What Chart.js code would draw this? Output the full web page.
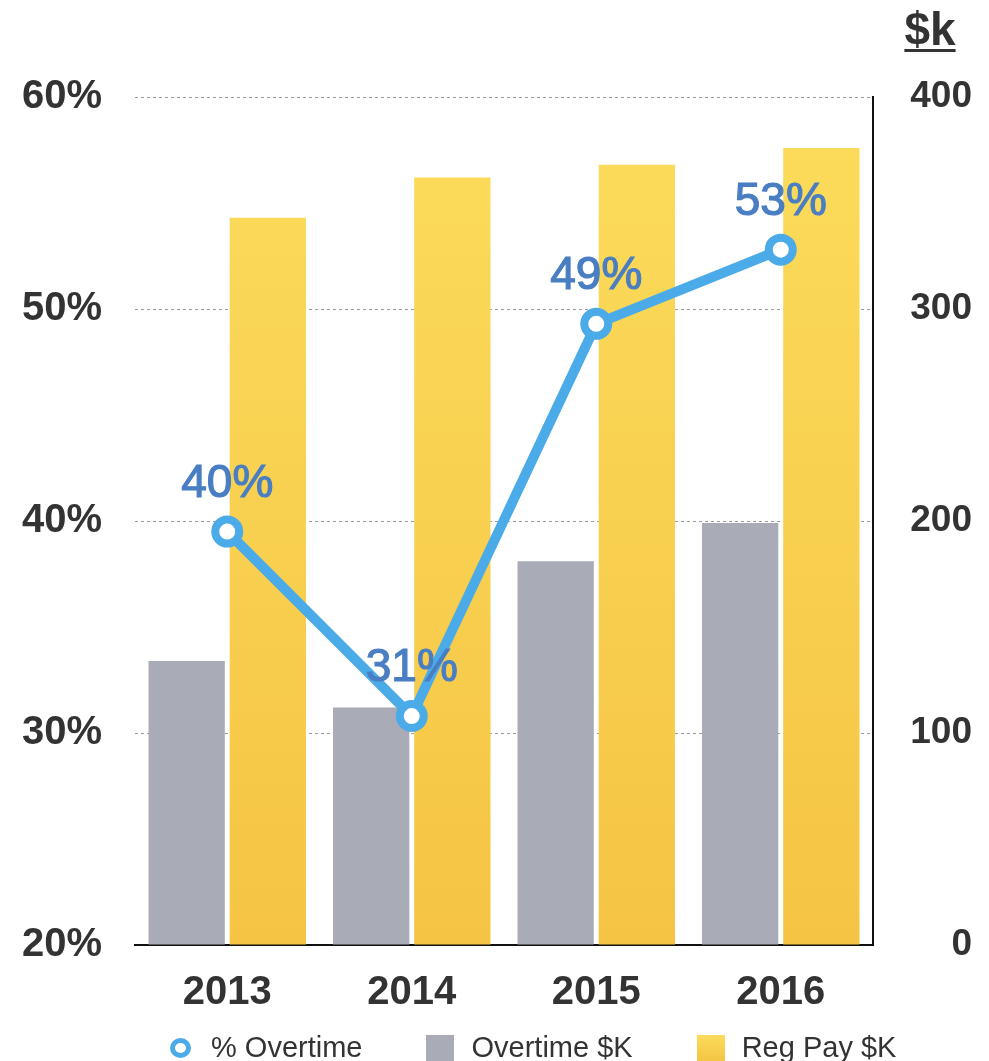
<!DOCTYPE html>
<html>
<head>
<meta charset="utf-8">
<script src="https://cdn.jsdelivr.net/npm/chart.js@4.4.1/dist/chart.umd.min.js"></script>
<style>
    body { margin: 0; background: #fff; }
    #wrap { position: relative; width: 989px; height: 1061px; }
    .legend {
        position: absolute; left: 170px; top: 1031px;
        display: flex; align-items: center;
        font: 29px "Liberation Sans", Arial, sans-serif; color: #333;
    }
    .legend .item { display: flex; align-items: center; margin-right: 64px; }
    .legend .mark { width: 28px; height: 26px; margin-right: 17px; }
    .legend .ring {
        width: 11px; height: 10px; margin-right: 20px; border-radius: 50%;
        border: 5px solid #4aabe8; background: #fff;
    }
</style>
</head>
<body>
<div id="wrap">
    <canvas id="chart" width="989" height="1061"></canvas>
    <div class="legend" id="legend"></div>
</div>
<script>
const years = ['2013', '2014', '2015', '2016']
const overtimePct = [39.5, 30.8, 49.3, 52.8]
const overtimeK = [134, 112, 181, 199]
const regPayK = [343, 362, 368, 376]
const pctTicks = [20, 30, 40, 50, 60]
const kTicks = [0, 100, 200, 300, 400]

const BLUE = '#4aabe8'
const GRAY = '#a9acb7'
const TEXT = '#333333'
const FONT = '"Liberation Sans", Arial, sans-serif'

function yellowFill(c) {
    const area = c.chart.chartArea
    if (!area) return '#f9d24e'
    const g = c.chart.ctx.createLinearGradient(0, area.top, 0, area.bottom)
    g.addColorStop(0, '#fcdc5c')
    g.addColorStop(1, '#f5c444')
    return g
}

// percentage labels above each point of the line
const pointLabels = {
    id: 'pointLabels',
    afterDatasetsDraw(chart) {
        const ctx = chart.ctx
        const meta = chart.getDatasetMeta(0)
        ctx.save()
        ctx.font = '46px ' + FONT
        ctx.fillStyle = '#4a7ec3'
        ctx.strokeStyle = '#4a7ec3'
        ctx.lineWidth = 1.2
        ctx.textAlign = 'center'
        ctx.textBaseline = 'alphabetic'
        meta.data.forEach((pt, i) => {
            const txt = Math.round(overtimePct[i]) + '%'
            ctx.fillText(txt, pt.x, pt.y - 35)
            ctx.strokeText(txt, pt.x, pt.y - 35)
        })
        ctx.restore()
    }
}

// "$k" unit caption over the right axis
const unitCaption = {
    id: 'unitCaption',
    afterDraw(chart) {
        const ctx = chart.ctx
        const x = chart.scales.y1.left + 57
        const y = chart.chartArea.top - 52
        ctx.save()
        ctx.font = 'bold 46px ' + FONT
        ctx.fillStyle = TEXT
        ctx.textAlign = 'center'
        ctx.textBaseline = 'alphabetic'
        ctx.fillText('$k', x, y)
        const w = ctx.measureText('$k').width
        ctx.fillRect(x - w / 2, y + 4, w, 3)
        ctx.restore()
    }
}

const chart = new Chart(document.getElementById('chart'), {
    data: {
        labels: years,
        datasets: [
            {
                type: 'line',
                label: '% Overtime',
                data: overtimePct,
                yAxisID: 'y',
                order: 0,
                borderColor: BLUE,
                borderWidth: 10,
                pointRadius: 12,
                pointHoverRadius: 12,
                pointBorderWidth: 8,
                pointBackgroundColor: '#fff',
                pointBorderColor: BLUE,
                tension: 0
            },
            {
                type: 'bar',
                label: 'Overtime $K',
                data: overtimeK,
                yAxisID: 'y1',
                order: 1,
                backgroundColor: GRAY
            },
            {
                type: 'bar',
                label: 'Reg Pay $K',
                data: regPayK,
                yAxisID: 'y1',
                order: 1,
                backgroundColor: yellowFill
            }
        ]
    },
    options: {
        responsive: false,
        animation: false,
        events: [],
        categoryPercentage: 0.88,
        barPercentage: 0.94,
        layout: { padding: { left: 0, right: 17, top: 97, bottom: 46 } },
        plugins: {
            legend: { display: false },
            tooltip: { enabled: false }
        },
        scales: {
            x: {
                grid: { display: true, drawOnChartArea: false, drawTicks: false },
                border: { color: '#111', width: 2 },
                ticks: { color: TEXT, font: { family: FONT, size: 40, weight: 'bold' }, padding: 24 },
                afterFit(s) { s.height = 70 }
            },
            y: {
                position: 'left',
                min: pctTicks[0],
                max: pctTicks[pctTicks.length - 1],
                ticks: {
                    stepSize: pctTicks[1] - pctTicks[0],
                    padding: 33,
                    color: TEXT,
                    font: { family: FONT, size: 40, weight: 'bold' },
                    callback: v => v + '%'
                },
                grid: { color: '#9a9a9a', lineWidth: 1, drawTicks: false },
                border: { display: false, dash: [3, 3] },
                afterFit(s) { s.width = 135 }
            },
            y1: {
                position: 'right',
                min: kTicks[0],
                max: kTicks[kTicks.length - 1],
                ticks: {
                    stepSize: kTicks[1] - kTicks[0],
                    padding: 39,
                    crossAlign: 'far',
                    color: TEXT,
                    font: { family: FONT, size: 37, weight: 'bold' }
                },
                grid: { drawOnChartArea: false, drawTicks: false },
                border: { color: '#111', width: 2 },
                afterFit(s) { s.width = 99 }
            }
        }
    },
    plugins: [pointLabels, unitCaption]
})

// legend row built from the datasets
const legend = document.getElementById('legend')
chart.data.datasets.forEach((ds, i) => {
    const item = document.createElement('div')
    item.className = 'item'
    const mark = document.createElement('span')
    if (ds.type === 'line') {
        mark.className = 'ring'
    } else {
        mark.className = 'mark'
        mark.style.background = i === 2 ? 'linear-gradient(#fcdc5c, #f5c444)' : GRAY
    }
    const text = document.createElement('span')
    text.textContent = ds.label
    item.append(mark, text)
    legend.append(item)
})
</script>
</body>
</html>
